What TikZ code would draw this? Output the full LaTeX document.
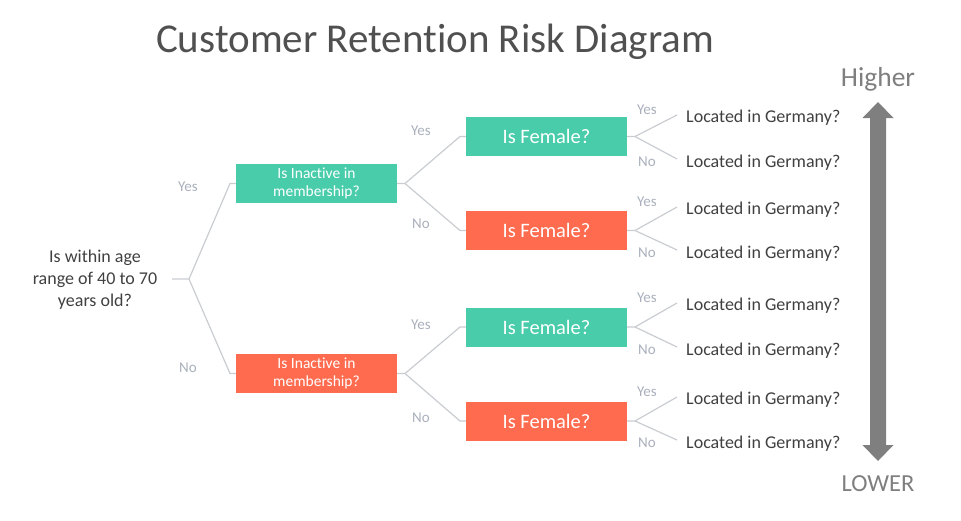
\documentclass[tikz,border=0pt]{standalone}
\usepackage{fontspec}
\setmainfont[Ligatures=NoCommon]{Carlito}
\definecolor{teal1}{HTML}{48CCAA}
\definecolor{orng}{HTML}{FF6B4F}
\definecolor{lbl}{HTML}{A9B0BC}
\definecolor{txt}{HTML}{404040}
\definecolor{ttl}{HTML}{505050}
\definecolor{lnc}{HTML}{C9CCD1}
\definecolor{arr}{HTML}{7F7F7F}
\begin{document}
\begin{tikzpicture}[x=1pt,y=-1pt,
  box/.style={minimum width=161pt,minimum height=39pt,inner sep=0pt,text=white,align=center},
  inact/.style={box,font=\fontsize{15.5}{18}\selectfont},
  fem/.style={box,font=\fontsize{20.5}{24}\selectfont},
  tealbox/.style={fill=teal1},
  orbox/.style={fill=orng},
  conn/.style={draw=lnc,line width=1.2pt},
  yn/.style={text=lbl,font=\fontsize{15}{18}\selectfont,inner sep=0pt},
  loc/.style={text=txt,font=\fontsize{18}{21}\selectfont,inner sep=0pt,anchor=west},
  side/.style={text=arr,inner sep=0pt}]
\useasboundingbox (0,0) rectangle (961,520);
% title
\node[text=ttl,font=\fontsize{41}{48}\selectfont,inner sep=0pt] (title) at (435,42) {Customer Retention Risk Diagram};
% root
\node[text=txt,font=\fontsize{18}{22}\selectfont,align=center,inner sep=0pt] (root) at (95,280) {Is within age\\range of 40 to 70\\years old?};
\coordinate (r0) at (172,279);
\coordinate (j0) at (189,279);
% level 1
\node[inact,tealbox] (i1) at (316.5,183.5) {Is Inactive in\\membership?};
\node[inact,orbox] (i2) at (316.5,373.5) {Is Inactive in\\membership?};
\draw[conn] (r0) -- (j0) -- (230,183.5) -- (i1.west);
\draw[conn] (j0) -- (230,373.5) -- (i2.west);
\node[yn] (y0) at (188,187) {Yes};
\node[yn] (n0) at (188,368) {No};
% level 2
\node[fem,tealbox] (f1) at (546.5,136.5) {Is Female?};
\node[fem,orbox] (f2) at (546.5,230.5) {Is Female?};
\node[fem,tealbox] (f3) at (546.5,327) {Is Female?};
\node[fem,orbox] (f4) at (546.5,421) {Is Female?};
\coordinate (j1) at (405,183.5);
\coordinate (j2) at (405,373.5);
\draw[conn] (i1.east) -- (j1) -- (460,136.5) -- (f1.west);
\draw[conn] (j1) -- (460,230.5) -- (f2.west);
\draw[conn] (i2.east) -- (j2) -- (460,327) -- (f3.west);
\draw[conn] (j2) -- (460,421) -- (f4.west);
\node[yn] (y1) at (421,131) {Yes};
\node[yn] (n1) at (421,224) {No};
\node[yn] (y2) at (421,325) {Yes};
\node[yn] (n2) at (421,418) {No};
% level 3
\foreach \f/\c/\ya/\yb [count=\k] in {f1/136.5/116/161, f2/230.5/208/252, f3/327/304/349, f4/421/398/442}{
  \coordinate (k\k) at (635,\c);
  \node[loc] (la\k) at (686,\ya+2) {Located in Germany?};
  \node[loc] (lb\k) at (686,\yb+2) {Located in Germany?};
  \draw[conn] (\f.east) -- (k\k) -- (677,\ya-1);
  \draw[conn] (k\k) -- (677,\yb-2);
  \node[yn] (ya\k) at (647,\ya-6) {Yes};
  \node[yn] (yb\k) at (647,\yb+1) {No};
}
% arrow
\node[side,font=\fontsize{27.5}{32}\selectfont] (hi) at (878,79) {Higher};
\node[side,font=\fontsize{24.5}{29}\selectfont] (lo) at (878,484) {LOWER};
\fill[arr] (878,102) -- (893.5,118) -- (886,118) -- (886,445) -- (893.5,445) -- (878,461) -- (862.5,445) -- (870,445) -- (870,118) -- (862.5,118) -- cycle;
\end{tikzpicture}
\end{document}
